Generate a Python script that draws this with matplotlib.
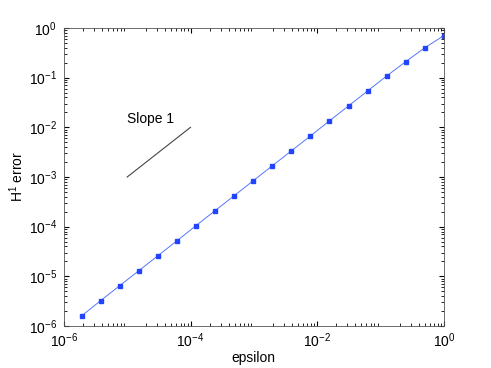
import matplotlib
matplotlib.use('Agg')
import matplotlib.pyplot as plt

matplotlib.rcParams.update({'font.family': 'Liberation Sans', 'font.size': 10,
                            'mathtext.fontset': 'custom',
                            'mathtext.rm': 'Liberation Sans',
                            'mathtext.it': 'Liberation Sans:italic',
                            'mathtext.bf': 'Liberation Sans:bold'})

# epsilon values (2^-k) and H1 error
epsilon = [1.0, 5.0e-1, 2.5e-1, 1.25e-1, 6.25e-2, 3.125e-2, 1.5625e-2, 7.8125e-3,
           3.90625e-3, 1.953125e-3, 9.765625e-4, 4.8828125e-4, 2.44140625e-4,
           1.220703125e-4, 6.103515625e-5, 3.0517578125e-5, 1.52587890625e-5,
           7.62939453125e-6, 3.814697265625e-6, 1.9073486328125e-6]
h1_error = [7.0e-1, 4.0e-1, 2.1e-1, 1.08e-1, 5.4e-2, 2.7e-2, 1.35e-2, 6.7e-3,
            3.35e-3, 1.68e-3, 8.4e-4, 4.2e-4, 2.1e-4,
            1.05e-4, 5.2e-5, 2.6e-5, 1.3e-5,
            6.5e-6, 3.25e-6, 1.6e-6]

slope_x = [1e-5, 1e-4]
slope_y = [1e-3, 1e-2]
xticks = [1e-6, 1e-4, 1e-2, 1]

fig = plt.figure(figsize=(4.91, 3.68), dpi=100)
ax = fig.add_axes([0.130, 0.114, 0.774, 0.810])
ax.loglog(epsilon, h1_error, '-s', color='#5577ff', linewidth=0.7,
          markersize=3.5, markerfacecolor='#2244ff', markeredgecolor='#2244ff')
ax.loglog(slope_x, slope_y, '-', color='#444444', linewidth=0.8)
ax.text(1e-5, 1.2e-2, 'Slope 1', fontsize=10)

ax.set_xlim(1e-6, 1)
ax.set_ylim(1e-6, 1)
ax.set_xticks(xticks)
ax.set_xlabel('epsilon', fontsize=10)
ax.set_ylabel('H$^1$ error', fontsize=10)
ax.xaxis.set_label_coords(0.5, -0.085)
ax.yaxis.set_label_coords(-0.1, 0.5)
ax.tick_params(which='both', direction='in', top=True, right=True, labelsize=10)
ax.tick_params(axis='x', pad=4)
ax.tick_params(axis='y', pad=5)
for s in ax.spines.values():
    s.set_linewidth(0.6)
    s.set_color('#555555')

plt.savefig('out.png', dpi=100)
